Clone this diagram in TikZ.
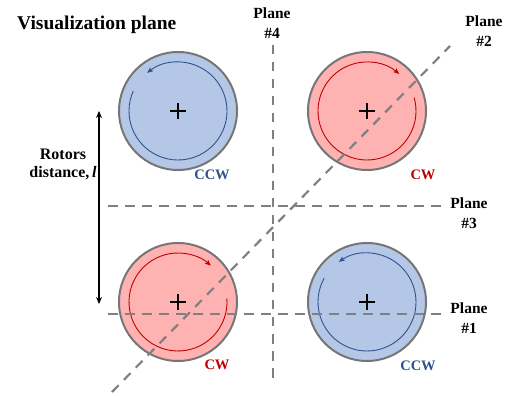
\documentclass[tikz,border=0pt]{standalone}
\usepackage{fontspec}
\setmainfont{Liberation Serif}
\usetikzlibrary{arrows.meta,calc}
\definecolor{rotorblue}{RGB}{180,199,231}
\definecolor{rotorred}{RGB}{255,178,178}
\definecolor{arcblue}{RGB}{47,82,143}
\definecolor{arcred}{RGB}{192,0,0}
\definecolor{rimgray}{RGB}{118,118,118}
\definecolor{planegray}{RGB}{128,128,128}
\begin{document}
\begin{tikzpicture}[x=1pt,y=1pt,
  rotor/.style={circle, draw=rimgray, line width=2pt, minimum size=118pt, inner sep=0pt},
  plane/.style={draw=planegray, line width=2.2pt, dash pattern=on 9.5pt off 7.5pt},
  spin/.style={line width=0.9pt, -{Stealth[length=6pt,width=5pt,inset=1.5pt]}},
  hub/.style={line width=1.8pt, black},
  lbl/.style={font=\fontsize{15.5}{19.5}\selectfont\bfseries, align=center, inner sep=0pt},
  dirlbl/.style={font=\fontsize{14.5}{16}\selectfont\bfseries, inner sep=0pt}]
\useasboundingbox (0,0) rectangle (508,396);

% title
\node[anchor=west, inner sep=0pt, font=\fontsize{19.5}{22}\selectfont\bfseries] (title) at (17,371) {Visualization plane};

% rotors
\node[rotor, fill=rotorblue] (tl) at (178,285) {};
\node[rotor, fill=rotorred]  (tr) at (367,285) {};
\node[rotor, fill=rotorred]  (bl) at (178,94) {};
\node[rotor, fill=rotorblue] (br) at (367,94) {};

% rotation arcs
\draw[spin, arcblue] ($(tl)+(156:49)$) arc[start angle=156, end angle=489, radius=49];
\draw[spin, arcred]  ($(tr)+(16:49)$) arc[start angle=16, end angle=-311, radius=49];
\draw[spin, arcred]  ($(bl)+(4:49)$) arc[start angle=4, end angle=-312, radius=49];
\draw[spin, arcblue] ($(br)+(151:49)$) arc[start angle=151, end angle=485, radius=49];

% hubs
\foreach \r in {tl,tr,bl,br}{
  \draw[hub] ($(\r)+(-8,0)$) -- ($(\r)+(8,0)$);
  \draw[hub] ($(\r)+(0,-8)$) -- ($(\r)+(0,8)$);
}

% direction labels
\node[dirlbl, text=arcblue] (tlccw) at (212,221) {CCW};
\node[dirlbl, text=arcred]  (trcw)  at (423,221) {CW};
\node[dirlbl, text=arcred]  (blcw)  at (217,31) {CW};
\node[dirlbl, text=arcblue] (brccw) at (418,30) {CCW};

% planes
\coordinate (p4a) at (273,351); \coordinate (p4b) at (273,11);
\coordinate (p3a) at (108,190); \coordinate (p3b) at (445,190);
\coordinate (p1a) at (108,82);  \coordinate (p1b) at (445,82);
\coordinate (p2a) at (112,4);   \coordinate (p2b) at (450,350);
\draw[plane] (p4a) -- (p4b);
\draw[plane] (p3a) -- (p3b);
\draw[plane] (p1a) -- (p1b);
\draw[plane] (p2a) -- (p2b);

\node[lbl] (pl4) at (272,373) {Plane\\\#4};
\node[lbl] (pl2) at (484,365) {Plane\\\#2};
\node[lbl] (pl3) at (469,183) {Plane\\\#3};
\node[lbl] (pl1) at (469,78)  {Plane\\\#1};

% rotor distance
\coordinate (dtop) at (99,285);
\coordinate (dbot) at (99,92);
\draw[line width=1.5pt, {Stealth[length=7pt,width=6pt]}-{Stealth[length=7pt,width=6pt]}] (dtop) -- (dbot);
\node[font=\fontsize{16}{18}\selectfont\bfseries, align=center, inner sep=0pt] (dist) at (63,231) {Rotors\\distance,\,\textit{l}};
\end{tikzpicture}
\end{document}
